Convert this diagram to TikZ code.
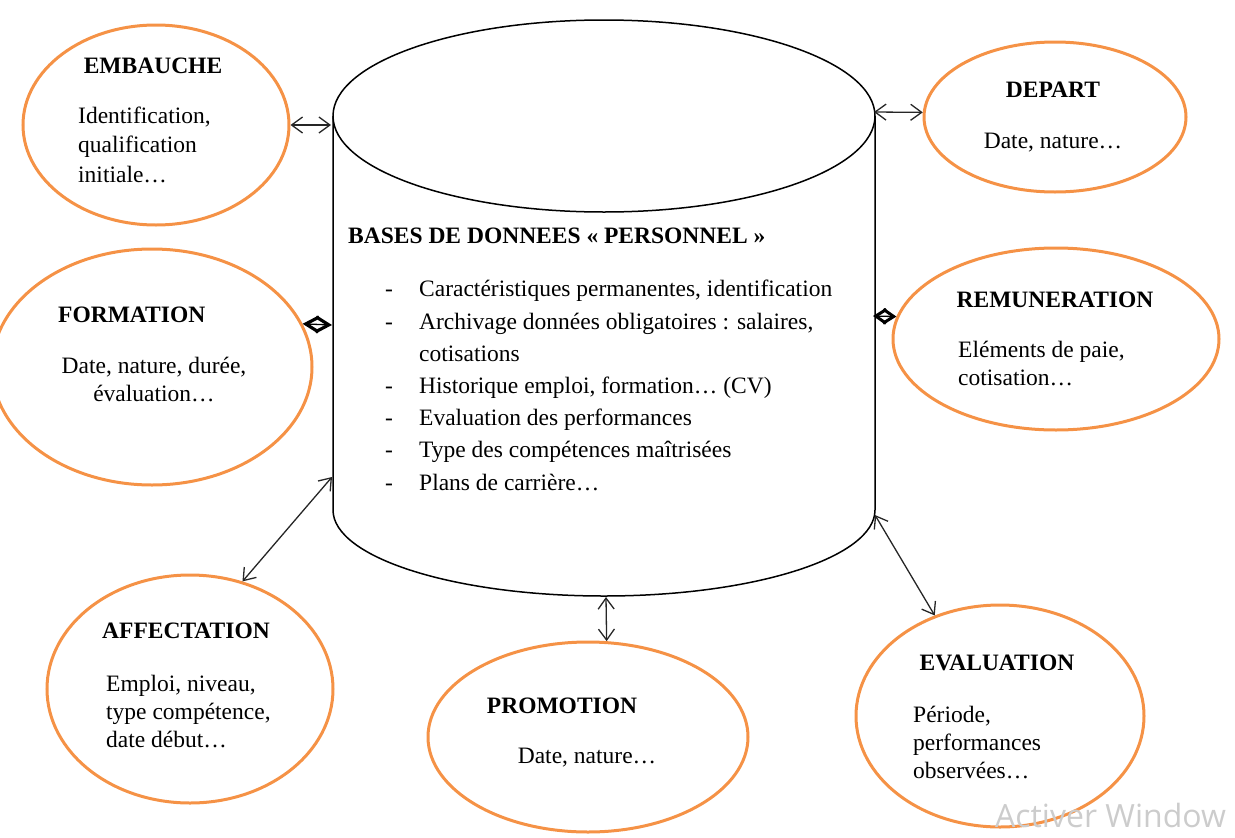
\documentclass[tikz,border=0pt]{standalone}
\usepackage{fontspec}
\setmainfont{Liberation Serif}
\newfontfamily\wmfont{Open Sans}
\usetikzlibrary{shapes.geometric,arrows.meta}
\definecolor{bubbleorange}{RGB}{245,146,70}

\begin{document}
\begin{tikzpicture}[x=1pt, y=1pt,
    bubble/.style={ellipse, draw=bubbleorange, line width=3pt, inner sep=0pt},
    bubbletext/.style={inner sep=0pt, font=\fontsize{23.5}{28}\selectfont},
    bubblehead/.style={inner sep=0pt, font=\fontsize{23.5}{28}\selectfont\bfseries},
    link/.style={black!85, line width=1.3pt, <->, >={Straight Barb[length=11pt,width=16pt]}},
    knot/.style={black, line width=1.3pt, <->, >={Straight Barb[length=13pt,width=15pt,line width=3.2pt]}}]
    \useasboundingbox (0,0) rectangle (1235,-838);

    \coordinate (dbW1) at (331,-125);
    \coordinate (dbW2) at (332,-325);
    \coordinate (dbW3) at (332,-477);
    \coordinate (dbE1) at (874,-112);
    \coordinate (dbE2) at (873,-316);
    \coordinate (dbE3) at (875,-515);
    \coordinate (dbS) at (606,-597);

    \draw [line width=1.5pt] (604,-116) ellipse [x radius=271pt, y radius=96pt];
    \draw [line width=1.5pt] (333,-116) -- (333,-510) arc [start angle=180, end angle=360, x radius=271pt, y radius=86pt] -- (875,-116);

    \node [bubble, minimum width=266pt, minimum height=200pt] (embauche) at (156,-125) {};
    \node [bubble, minimum width=262pt, minimum height=150pt] (depart) at (1055,-117) {};
    \node [bubble, minimum width=320pt, minimum height=236pt] (formation) at (152,-367) {};
    \node [bubble, minimum width=326pt, minimum height=182pt] (remun) at (1056,-339) {};
    \node [bubble, minimum width=286pt, minimum height=228pt] (affect) at (190,-689) {};
    \node [bubble, minimum width=320pt, minimum height=190pt] (promo) at (588,-737) {};
    \node [bubble, minimum width=288pt, minimum height=222pt] (evalu) at (1000,-716) {};

    \node [bubblehead, anchor=base] (embaucheT) at (153,-73) {EMBAUCHE};
    \node [bubbletext, anchor=base west, align=left] (embaucheB) at (78,-182) {Identification,\\[1.5pt]qualification\\[1.5pt]initiale…};
    \node [bubblehead, anchor=base] (departT) at (1053,-97) {DEPART};
    \node [bubbletext, anchor=base] (departB) at (1053,-148) {Date, nature…};
    \node [bubblehead, anchor=base west] (formationT) at (58,-322) {FORMATION};
    \node [bubbletext, anchor=base, align=center] (formationB) at (154,-401) {Date, nature, durée,\\évaluation…};
    \node [bubblehead, anchor=base] (remunT) at (1055,-307) {REMUNERATION};
    \node [bubbletext, anchor=base west, align=left] (remunB) at (958,-385) {Eléments de paie,\\cotisation…};
    \node [bubblehead, anchor=base] (affectT) at (186,-638) {AFFECTATION};
    \node [bubbletext, anchor=base west, align=left] (affectB) at (106,-747) {Emploi, niveau,\\type compétence,\\date début…};
    \node [bubblehead, anchor=base] (promoT) at (562,-713) {PROMOTION};
    \node [bubbletext, anchor=base] (promoB) at (587,-763) {Date, nature…};
    \node [bubblehead, anchor=base] (evaluT) at (997,-670) {EVALUATION};
    \node [bubbletext, anchor=base west, align=left] (evaluB) at (913,-778) {Période,\\performances\\observées…};

    \node [bubblehead, anchor=base west] (dbtitle) at (348,-243) {BASES DE DONNEES « PERSONNEL »};
    \node [bubbletext, anchor=base west, align=left, font=\fontsize{23.5}{32.2}\selectfont] (dblist) at (385,-490)
        {\makebox[34pt][l]{-}Caractéristiques permanentes, identification\\
         \makebox[34pt][l]{-}Archivage données obligatoires : salaires,\\
         \makebox[34pt][l]{}cotisations\\
         \makebox[34pt][l]{-}Historique emploi, formation… (CV)\\
         \makebox[34pt][l]{-}Evaluation des performances\\
         \makebox[34pt][l]{-}Type des compétences maîtrisées\\
         \makebox[34pt][l]{-}Plans de carrière…};

    \draw [link] (embauche.east) -- (dbW1);
    \draw [link] (depart.178) -- (dbE1);
    \draw [knot] (formation.16) -- (dbW2);
    \draw [knot, >={Straight Barb[length=10.5pt,width=14pt,line width=3pt]}] (remun.172) -- (dbE2);
    \draw [link] (affect.64) -- (dbW3);
    \draw [link] (promo.79) -- (dbS);
    \draw [link] (evalu.123) -- (dbE3);

    \node [anchor=base west, inner sep=0pt, text=black!20, font=\wmfont\fontsize{32}{32}\selectfont] (watermark) at (995,-827) {Activer Window};
  \end{tikzpicture}
\end{document}
